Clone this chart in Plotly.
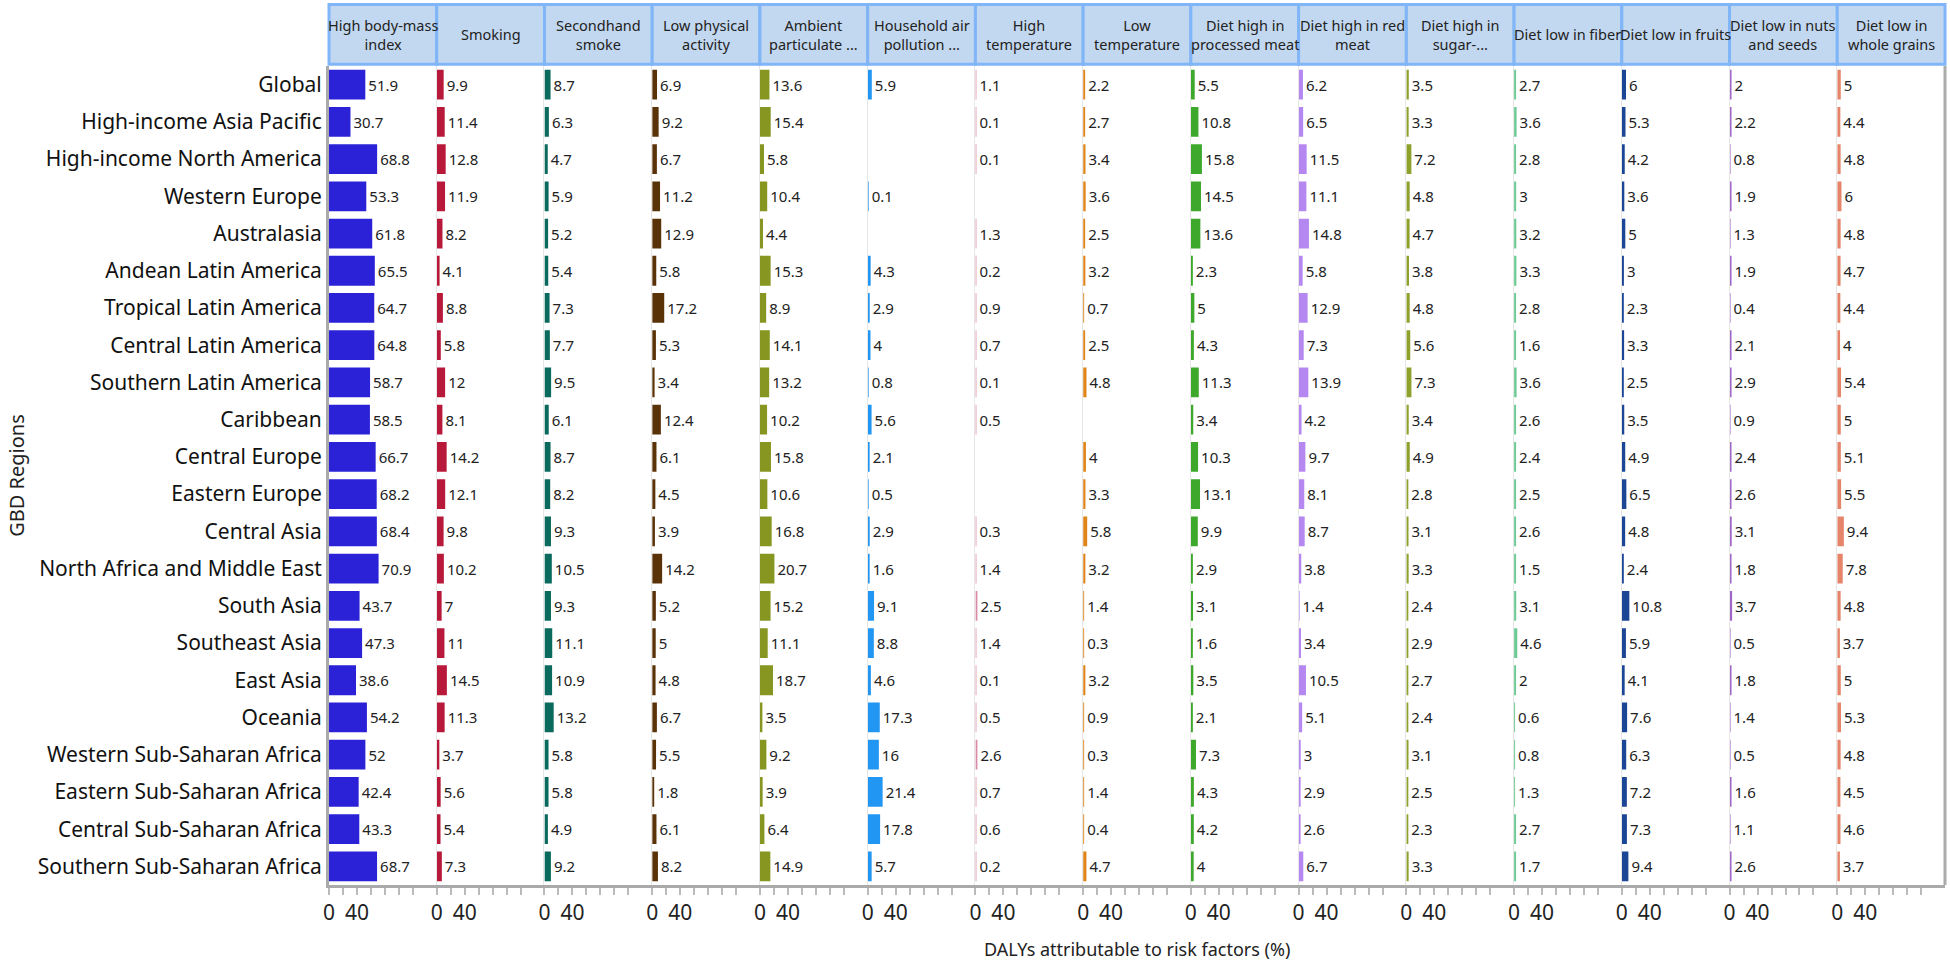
import plotly.graph_objects as go
from plotly.subplots import make_subplots

regions = ["Global", "High-income Asia Pacific", "High-income North America", "Western Europe",
           "Australasia", "Andean Latin America", "Tropical Latin America", "Central Latin America",
           "Southern Latin America", "Caribbean", "Central Europe", "Eastern Europe", "Central Asia",
           "North Africa and Middle East", "South Asia", "Southeast Asia", "East Asia", "Oceania",
           "Western Sub-Saharan Africa", "Eastern Sub-Saharan Africa", "Central Sub-Saharan Africa",
           "Southern Sub-Saharan Africa"]

risk_labels = ["High body-mass<br>index", "Smoking", "Secondhand<br>smoke", "Low physical<br>activity",
               "Ambient<br>particulate ...", "Household air<br>pollution ...", "High<br>temperature",
               "Low<br>temperature", "Diet high in<br>processed meat", "Diet high in red<br>meat",
               "Diet high in<br>sugar-...", "Diet low in fiber", "Diet low in fruits",
               "Diet low in nuts<br>and seeds", "Diet low in<br>whole grains"]

high_bmi = [51.9, 30.7, 68.8, 53.3, 61.8, 65.5, 64.7, 64.8, 58.7, 58.5, 66.7, 68.2, 68.4, 70.9, 43.7, 47.3, 38.6, 54.2, 52, 42.4, 43.3, 68.7]
smoking = [9.9, 11.4, 12.8, 11.9, 8.2, 4.1, 8.8, 5.8, 12, 8.1, 14.2, 12.1, 9.8, 10.2, 7, 11, 14.5, 11.3, 3.7, 5.6, 5.4, 7.3]
secondhand = [8.7, 6.3, 4.7, 5.9, 5.2, 5.4, 7.3, 7.7, 9.5, 6.1, 8.7, 8.2, 9.3, 10.5, 9.3, 11.1, 10.9, 13.2, 5.8, 5.8, 4.9, 9.2]
low_activity = [6.9, 9.2, 6.7, 11.2, 12.9, 5.8, 17.2, 5.3, 3.4, 12.4, 6.1, 4.5, 3.9, 14.2, 5.2, 5, 4.8, 6.7, 5.5, 1.8, 6.1, 8.2]
ambient_pm = [13.6, 15.4, 5.8, 10.4, 4.4, 15.3, 8.9, 14.1, 13.2, 10.2, 15.8, 10.6, 16.8, 20.7, 15.2, 11.1, 18.7, 3.5, 9.2, 3.9, 6.4, 14.9]
household_air = [5.9, None, None, 0.1, None, 4.3, 2.9, 4, 0.8, 5.6, 2.1, 0.5, 2.9, 1.6, 9.1, 8.8, 4.6, 17.3, 16, 21.4, 17.8, 5.7]
high_temp = [1.1, 0.1, 0.1, None, 1.3, 0.2, 0.9, 0.7, 0.1, 0.5, None, None, 0.3, 1.4, 2.5, 1.4, 0.1, 0.5, 2.6, 0.7, 0.6, 0.2]
low_temp = [2.2, 2.7, 3.4, 3.6, 2.5, 3.2, 0.7, 2.5, 4.8, None, 4, 3.3, 5.8, 3.2, 1.4, 0.3, 3.2, 0.9, 0.3, 1.4, 0.4, 4.7]
processed_meat = [5.5, 10.8, 15.8, 14.5, 13.6, 2.3, 5, 4.3, 11.3, 3.4, 10.3, 13.1, 9.9, 2.9, 3.1, 1.6, 3.5, 2.1, 7.3, 4.3, 4.2, 4]
red_meat = [6.2, 6.5, 11.5, 11.1, 14.8, 5.8, 12.9, 7.3, 13.9, 4.2, 9.7, 8.1, 8.7, 3.8, 1.4, 3.4, 10.5, 5.1, 3, 2.9, 2.6, 6.7]
sugar_bev = [3.5, 3.3, 7.2, 4.8, 4.7, 3.8, 4.8, 5.6, 7.3, 3.4, 4.9, 2.8, 3.1, 3.3, 2.4, 2.9, 2.7, 2.4, 3.1, 2.5, 2.3, 3.3]
low_fiber = [2.7, 3.6, 2.8, 3, 3.2, 3.3, 2.8, 1.6, 3.6, 2.6, 2.4, 2.5, 2.6, 1.5, 3.1, 4.6, 2, 0.6, 0.8, 1.3, 2.7, 1.7]
low_fruits = [6, 5.3, 4.2, 3.6, 5, 3, 2.3, 3.3, 2.5, 3.5, 4.9, 6.5, 4.8, 2.4, 10.8, 5.9, 4.1, 7.6, 6.3, 7.2, 7.3, 9.4]
low_nuts = [2, 2.2, 0.8, 1.9, 1.3, 1.9, 0.4, 2.1, 2.9, 0.9, 2.4, 2.6, 3.1, 1.8, 3.7, 0.5, 1.8, 1.4, 0.5, 1.6, 1.1, 2.6]
low_grains = [5, 4.4, 4.8, 6, 4.8, 4.7, 4.4, 4, 5.4, 5, 5.1, 5.5, 9.4, 7.8, 4.8, 3.7, 5, 5.3, 4.8, 4.5, 4.6, 3.7]

series = [high_bmi, smoking, secondhand, low_activity, ambient_pm, household_air, high_temp, low_temp,
          processed_meat, red_meat, sugar_bev, low_fiber, low_fruits, low_nuts, low_grains]

colors = ["#2B22D8", "#B8193A", "#0B6A5E", "#5A3208", "#869621", "#2196F3", "#D98AA6", "#E0851A",
          "#3DA82C", "#B488F0", "#8FA02C", "#6CCB95", "#1B4595", "#A066C8", "#E58469"]

FONT = "Segoe UI, Noto Sans, sans-serif"
n = len(series)

fig = make_subplots(rows=1, cols=n, shared_yaxes=True, horizontal_spacing=0)

for i, vals in enumerate(series):
    fig.add_trace(go.Bar(
        y=regions, x=vals, orientation="h",
        marker=dict(color=colors[i], line=dict(width=0)),
        text=["" if v is None else f"{v:g}" for v in vals],
        textposition="outside", cliponaxis=False,
        textfont=dict(size=15, color="#222222", family=FONT),
        showlegend=False,
    ), row=1, col=i + 1)
    fig.update_xaxes(range=[0, 154], tickvals=[0, 40], ticktext=["0", "40"],
                     ticks="outside", ticklen=7, tickwidth=2, tickcolor="#BBBBBB",
                     minor=dict(tickvals=[20, 60, 80, 100, 120], ticks="outside", ticklen=7,
                                tickwidth=2, tickcolor="#BBBBBB"),
                     showgrid=False, zeroline=False,
                     showline=True, linecolor="#AAAAAA", linewidth=3,
                     tickfont=dict(size=21, color="#222222", family=FONT),
                     row=1, col=i + 1)
    fig.update_yaxes(showgrid=False, zeroline=False, showline=True,
                     linecolor="#E6E6E6", linewidth=1, ticks="",
                     row=1, col=i + 1)
    # header cell
    xr = "x domain" if i == 0 else f"x{i + 1} domain"
    fig.add_shape(type="rect", xref=xr, yref="paper", x0=0, x1=1, y0=1.002, y1=1.075,
                  fillcolor="#C2D8F0", line=dict(color="#80B5F7", width=3))
    fig.add_annotation(text=risk_labels[i], xref=xr, yref="paper", x=0.5, y=1.0385,
                       showarrow=False, xanchor="center", yanchor="middle",
                       font=dict(size=14.5, color="#222222", family=FONT))

fig.update_yaxes(categoryorder="array", categoryarray=regions, autorange="reversed")
fig.update_yaxes(linecolor="#AAAAAA", linewidth=3,
                 tickfont=dict(size=21, color="#111111", family=FONT),
                 title=dict(text="GBD Regions", font=dict(size=20, color="#222222", family=FONT),
                            standoff=8),
                 row=1, col=1)

# right border
fig.add_shape(type="line", xref="paper", yref="paper", x0=1, x1=1, y0=0, y1=1,
              line=dict(color="#AAAAAA", width=3))

fig.add_annotation(text="DALYs attributable to risk factors (%)", xref="paper", yref="paper",
                   x=0.5, y=-0.078, showarrow=False, yanchor="middle",
                   font=dict(size=18, color="#222222", family=FONT))

fig.update_layout(
    width=1950, height=967,
    margin=dict(l=329, r=5, t=66, b=82),
    bargap=0.2,
    plot_bgcolor="white", paper_bgcolor="white",
    font=dict(family=FONT),
)

fig.write_html("out.html", config={"displayModeBar": False},
               post_script="document.body.style.margin='0';")
